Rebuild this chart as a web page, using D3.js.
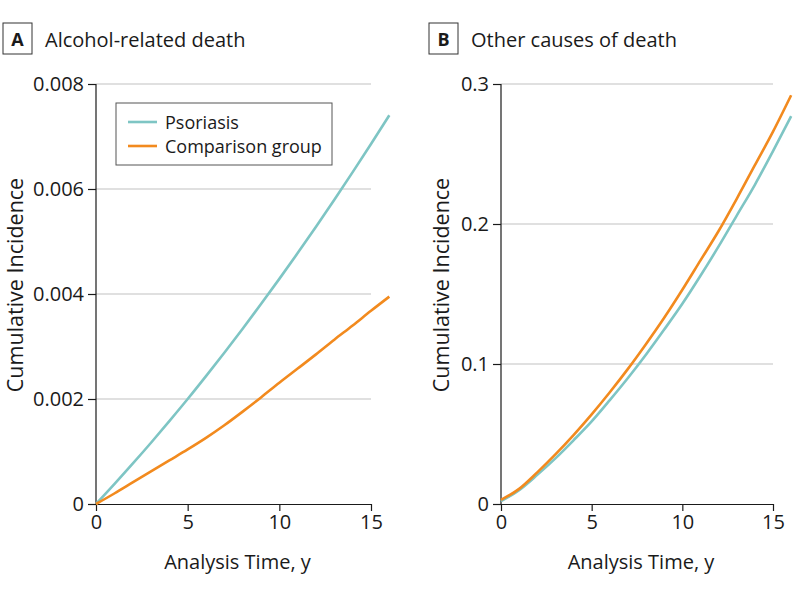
<!DOCTYPE html>
<html><head><meta charset="utf-8">
<script src="https://cdn.jsdelivr.net/npm/d3@7"></script>
<style>body{margin:0;background:#fff}svg{display:block}text{font-family:"Open Sans","Noto Sans",sans-serif;fill:#1a1a1a}</style>
</head><body>
<svg id="c" width="798" height="591"></svg>
<script>
const time = [0, 1, 2, 3, 4, 5, 6, 7, 8, 9, 10, 11, 12, 13, 14, 15, 16];
const alcPsoriasis = [0, 0.000378, 0.000767, 0.001167, 0.001579, 0.002, 0.002436, 0.002882, 0.003339, 0.003808, 0.004288, 0.004779, 0.005282, 0.005796, 0.006321, 0.006858, 0.007406];
const alcComparison = [0, 0.0002, 0.00041, 0.00062, 0.00083, 0.00104, 0.00126, 0.0015, 0.00176, 0.00203, 0.00231, 0.00258, 0.00285, 0.00313, 0.0034, 0.00368, 0.00395];
const othPsoriasis = [0.002, 0.0099, 0.0208, 0.0326, 0.0455, 0.059, 0.0742, 0.0900, 0.1068, 0.1246, 0.143, 0.163, 0.184, 0.206, 0.228, 0.252, 0.277];
const othComparison = [0.003, 0.0108, 0.0226, 0.0354, 0.0492, 0.064, 0.0798, 0.0965, 0.1143, 0.1330, 0.153, 0.174, 0.195, 0.218, 0.242, 0.266, 0.292];
const xTicks = [0, 5, 10, 15];
const yTicksA = [0, 0.002, 0.004, 0.006, 0.008];
const yTicksB = [0, 0.1, 0.2, 0.3];
const yLabelsA = ["0", "0.002", "0.004", "0.006", "0.008"];
const yLabelsB = ["0", "0.1", "0.2", "0.3"];
const seriesNames = ["Psoriasis", "Comparison group"];
const colors = ["#7ec5c4", "#f28a1e"];

const svg = d3.select("#c");

function panel(opt) {
  const g = svg.append("g");
  const x = d3.scaleLinear().domain([0, 15]).range([opt.x0, opt.x15]);
  const y = d3.scaleLinear().domain([0, opt.ymax]).range([504, 84]);
  g.selectAll(".grid").data(opt.yTicks.filter(d => d > 0)).enter().append("line")
    .attr("x1", opt.x0).attr("x2", x(15)).attr("y1", d => y(d)).attr("y2", d => y(d))
    .attr("stroke", "#d6d6d6").attr("stroke-width", 1.5);
  const ya = g.append("g").attr("transform", `translate(${opt.x0},0)`)
    .call(d3.axisLeft(y).tickValues(opt.yTicks).tickFormat((d, i) => opt.yLabels[i]).tickSize(8).tickSizeOuter(0).tickPadding(4));
  const xa = g.append("g").attr("transform", `translate(0,504)`)
    .call(d3.axisBottom(x).tickValues(xTicks).tickSize(7).tickSizeOuter(0).tickPadding(4));
  [ya, xa].forEach(a => {
    a.select(".domain").attr("stroke", "#1a1a1a").attr("stroke-width", 1.2);
    a.selectAll(".tick line").attr("stroke", "#1a1a1a").attr("stroke-width", 1.2);
    a.selectAll("text").style("font-size", "20px").attr("fill", "#1a1a1a");
  });
  ya.select(".domain").attr("d", `M0,${y(opt.ymax)}V504`);
  const line = d3.line().x((d, i) => x(time[i])).y(d => y(d)).curve(d3.curveMonotoneX);
  opt.series.forEach((s, k) => {
    g.append("path").datum(s).attr("d", line).attr("fill", "none")
      .attr("stroke", colors[k]).attr("stroke-width", 2.6);
  });
  g.append("text").attr("x", (opt.x0 + x(15)) / 2 + 4).attr("y", 569).attr("text-anchor", "middle")
    .style("font-size", "20px").text("Analysis Time, y");
  g.append("text").attr("transform", `translate(${opt.ylx},285) rotate(-90)`).attr("text-anchor", "middle")
    .style("font-size", "21.5px").text("Cumulative Incidence");
  g.append("rect").attr("x", opt.bx).attr("y", 23).attr("width", 29).attr("height", 31)
    .attr("fill", "#fff").attr("stroke", "#333").attr("stroke-width", 1);
  g.append("text").attr("x", opt.bx + 14.5).attr("y", 46).attr("text-anchor", "middle")
    .style("font-size", "18px").style("font-weight", "bold").text(opt.letter);
  g.append("text").attr("x", opt.bx + 42).attr("y", 47).style("font-size", "20px").text(opt.title);
  return {x, y, g};
}

panel({x0: 96, x15: 371, ymax: 0.008, yTicks: yTicksA, yLabels: yLabelsA, series: [alcPsoriasis, alcComparison], ylx: 23, bx: 3, letter: "A", title: "Alcohol-related death"});
panel({x0: 501, x15: 773, ymax: 0.3, yTicks: yTicksB, yLabels: yLabelsB, series: [othPsoriasis, othComparison], ylx: 449, bx: 429, letter: "B", title: "Other causes of death"});

const lg = svg.append("g");
lg.append("rect").attr("x", 116).attr("y", 103).attr("width", 216).attr("height", 62)
  .attr("fill", "#fff").attr("stroke", "#555").attr("stroke-width", 1);
seriesNames.forEach((n, i) => {
  const yy = 122 + i * 24;
  lg.append("line").attr("x1", 128).attr("x2", 157).attr("y1", yy).attr("y2", yy)
    .attr("stroke", colors[i]).attr("stroke-width", 2.6);
  lg.append("text").attr("x", 165).attr("y", yy + 6.5).style("font-size", "18px").text(n);
});
</script>
</body></html>
